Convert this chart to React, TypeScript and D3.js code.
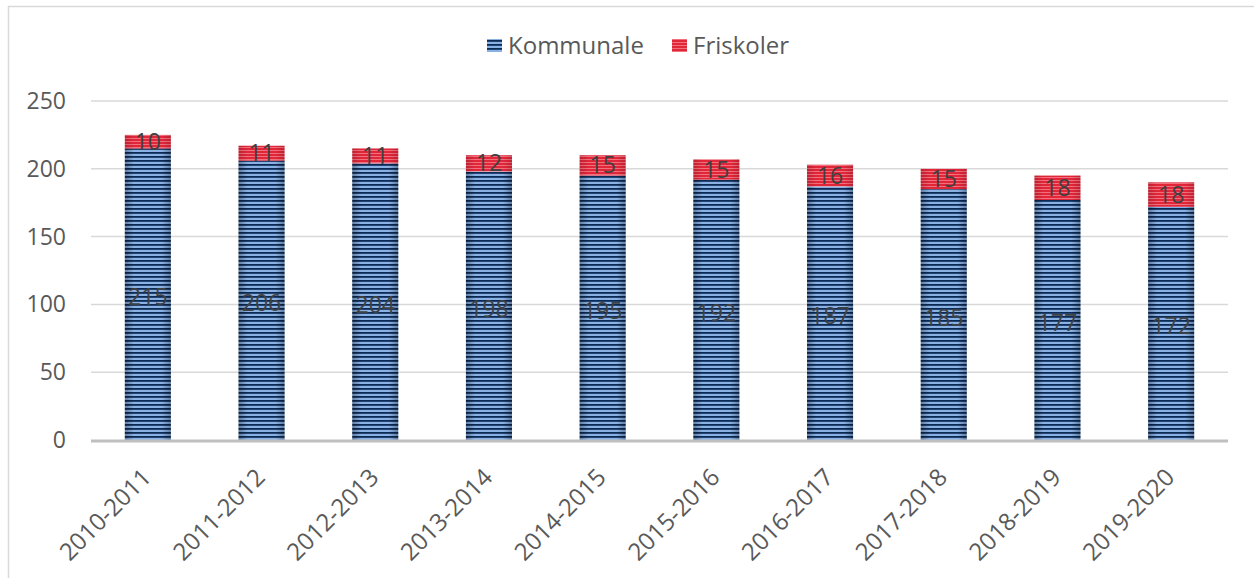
import React from "react";
import * as d3 from "d3";

const years = [
  "2010-2011", "2011-2012", "2012-2013", "2013-2014", "2014-2015",
  "2015-2016", "2016-2017", "2017-2018", "2018-2019", "2019-2020",
];
const kommunale = [215, 206, 204, 198, 195, 192, 187, 185, 177, 172];
const friskoler = [10, 11, 11, 12, 15, 15, 16, 15, 18, 18];
const yTicks = [0, 50, 100, 150, 200, 250];

const W = 1254, H = 578;
const font = "'Open Sans', 'Noto Sans', sans-serif";

const App = () => {
  const x = d3.scaleBand<string>().domain(years).range([91, 1228]).paddingInner(0.595).paddingOuter(0.2975);
  const y = d3.scaleLinear().domain([0, 250]).range([440, 101]);
  const bw = x.bandwidth();

  return (
    <svg width={W} height={H} style={{ position: "absolute", left: 0, top: 0 }}>
      <defs>
        <pattern id="blueStripe" patternUnits="userSpaceOnUse" width="8" height="4">
          <rect width="8" height="4" fill="#8ab1e3" />
          <rect width="8" height="1.8" fill="#0b2a56" />
        </pattern>
        <pattern id="redStripe" patternUnits="userSpaceOnUse" width="8" height="3">
          <rect width="8" height="3" fill="#e2263a" />
          <rect width="8" height="1" fill="#f2707c" />
        </pattern>
        <linearGradient id="edge" x1="0" x2="1" y1="0" y2="0">
          <stop offset="0" stopColor="#000" stopOpacity="0.3" />
          <stop offset="0.2" stopColor="#000" stopOpacity="0" />
          <stop offset="0.8" stopColor="#000" stopOpacity="0" />
          <stop offset="1" stopColor="#000" stopOpacity="0.3" />
        </linearGradient>
      </defs>

      <rect x={8.5} y={6.5} width={1300} height={600} fill="#fff" stroke="#d9d9d9" strokeWidth={1.5} />

      {yTicks.filter((t) => t > 0).map((t) => (
        <line key={t} x1={91} x2={1228} y1={y(t)} y2={y(t)} stroke="#d9d9d9" strokeWidth={1.5} />
      ))}
      {yTicks.map((t) => (
        <text key={t} x={66} y={y(t)} dy="0.35em" textAnchor="end" fontFamily={font} fontSize={23} fill="#595959">
          {t}
        </text>
      ))}

      {years.map((yr, i) => {
        const x0 = x(yr)!;
        const k = kommunale[i];
        const f = friskoler[i];
        const cx = x0 + bw / 2;
        return (
          <g key={yr}>
            <rect x={x0} y={y(k)} width={bw} height={y(0) - y(k)} fill="url(#blueStripe)" />
            <rect x={x0} y={y(k)} width={bw} height={y(0) - y(k)} fill="url(#edge)" />
            <rect x={x0} y={y(k + f)} width={bw} height={y(k) - y(k + f)} fill="url(#redStripe)" />
            <rect x={x0} y={y(k + f)} width={bw} height={y(k) - y(k + f)} fill="url(#edge)" opacity={0.5} />
            <text x={cx} y={(y(0) + y(k)) / 2 + 3} dy="0.35em" textAnchor="middle" fontFamily={font} fontSize={23} fill="#404040">
              {k}
            </text>
            <text x={cx} y={(y(k) + y(k + f)) / 2} dy="0.35em" textAnchor="middle" fontFamily={font} fontSize={23} fill="#404040">
              {f}
            </text>
            <text
              transform={`translate(${cx - 7},${467}) rotate(-45)`}
              textAnchor="end"
              dy="0.7em"
              fontFamily={font}
              fontSize={24}
              fill="#595959"
            >
              {yr}
            </text>
          </g>
        );
      })}

      <line x1={91} x2={1228} y1={y(0) + 1} y2={y(0) + 1} stroke="#bfbfbf" strokeWidth={3} />

      <g fontFamily={font} fontSize={24} fill="#595959">
        <rect x={487} y={39} width={15} height={13} fill="url(#blueStripe)" />
        <text x={508} y={46} dy="0.35em">Kommunale</text>
        <rect x={672} y={39} width={15} height={13} fill="url(#redStripe)" />
        <text x={693} y={46} dy="0.35em">Friskoler</text>
      </g>
    </svg>
  );
};

export default App;
